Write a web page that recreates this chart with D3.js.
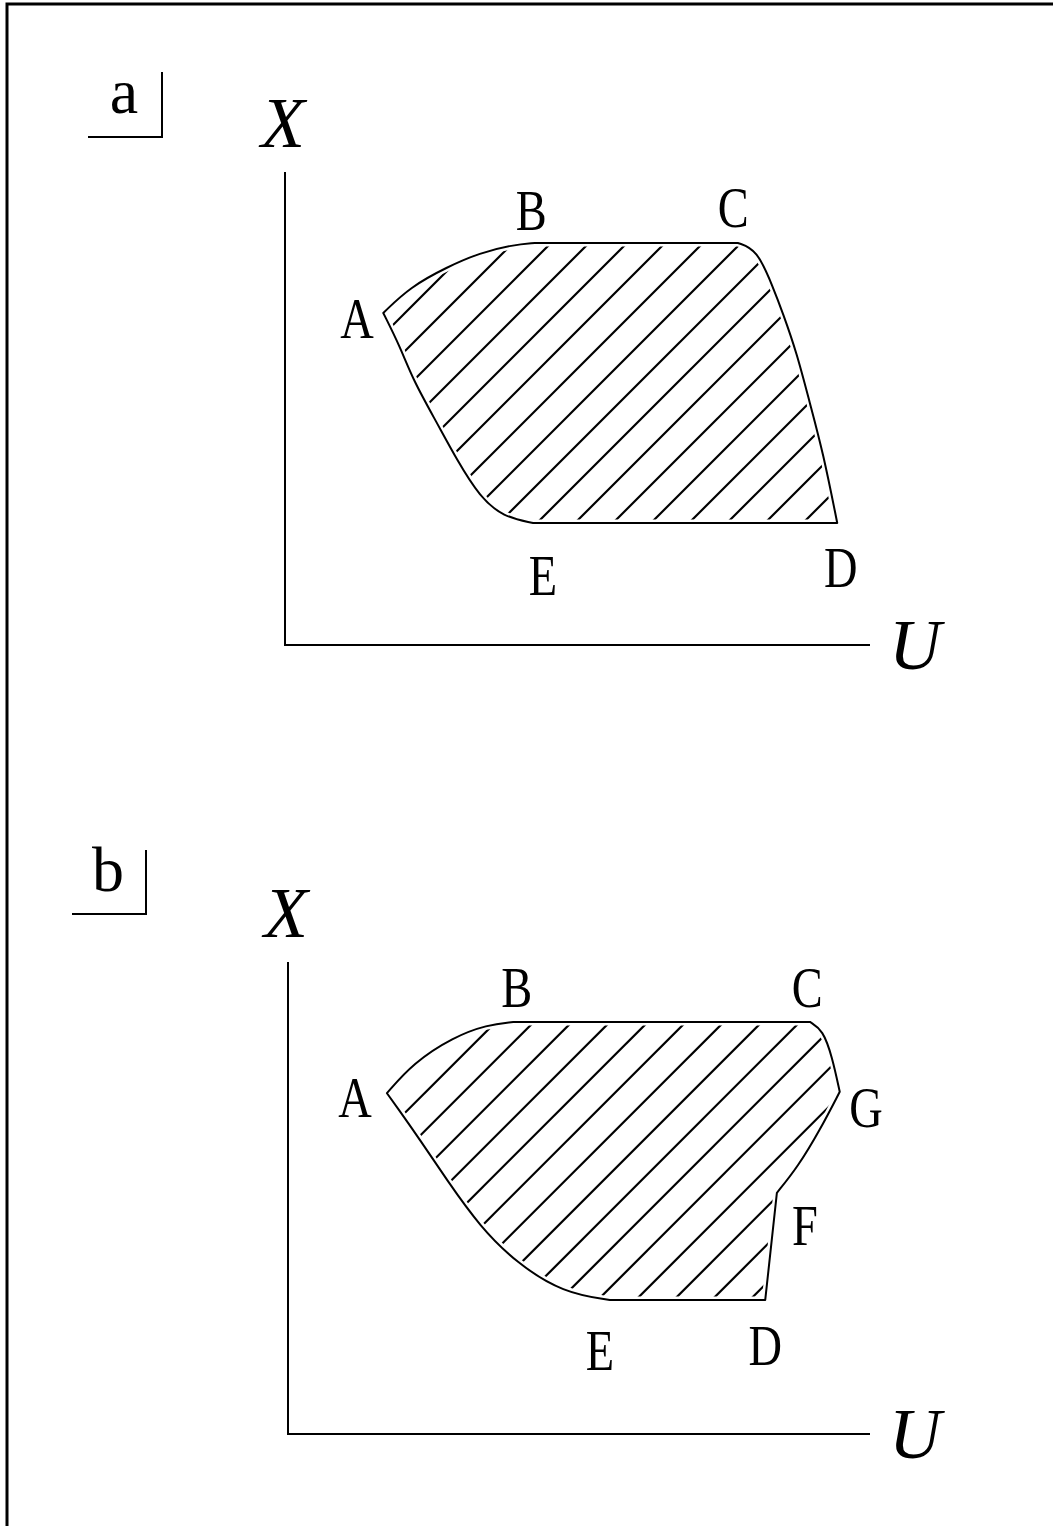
<!DOCTYPE html>
<html>
<head>
<meta charset="utf-8">
<script src="https://cdn.jsdelivr.net/npm/d3@7"></script>
<style>
  body { margin: 0; background: #fff; }
  svg { display: block; }
</style>
</head>
<body>
<svg id="chart" width="1053" height="1526"></svg>
<script>
/*global d3 */
// outline of each region, [U, X] in axis units (0-100), split into segments
var outlineA = [
    {curve: true,  pts: [[16.8, 70.2], [21.4, 75.7], [27.7, 79.9], [33.3, 82.9], [39.0, 84.6], [42.7, 85.0]]},
    {curve: false, pts: [[42.7, 85.0], [77.4, 85.0]]},
    {curve: true,  pts: [[77.4, 85.0], [80.7, 83.6], [83.4, 75.7], [85.1, 70.2], [87.5, 61.7], [89.7, 51.2], [92.0, 40.6], [94.4, 25.8]]},
    {curve: false, pts: [[94.4, 25.8], [42.4, 25.8]]},
    {curve: true,  pts: [[42.4, 25.8], [37.3, 27.1], [33.3, 31.3], [29.4, 39.1], [26.0, 46.9], [21.9, 56.0], [19.7, 63.0], [16.8, 70.2]]}
];
var outlineB = [
    {curve: true,  pts: [[17.0, 72.2], [21.5, 78.6], [28.4, 84.1], [34.2, 86.7], [38.7, 87.3]]},
    {curve: false, pts: [[38.7, 87.3], [89.7, 87.3]]},
    {curve: true,  pts: [[89.7, 87.3], [91.9, 85.6], [93.5, 79.9], [94.8, 72.5]]},
    {curve: true,  pts: [[94.8, 72.5], [91.4, 64.4], [87.6, 56.6], [84.0, 51.1]]},
    {curve: false, pts: [[84.0, 51.1], [82.0, 28.4]]},
    {curve: false, pts: [[82.0, 28.4], [55.3, 28.4]]},
    {curve: true,  pts: [[55.3, 28.4], [47.3, 29.9], [39.3, 36.2], [33.0, 43.9], [27.3, 53.8], [22.7, 62.3], [18.7, 69.3], [17.0, 72.2]]}
];
// point names, [name, U, X] of the label baseline centre
var labelsA = [["A", 12.3, 64.9], ["B", 42.1, 87.7], ["C", 76.6, 88.4], ["D", 95.0, 12.3], ["E", 44.1, 10.6]];
var labelsB = [["A", 11.5, 67.2], ["B", 39.3, 90.5], ["C", 89.2, 90.5], ["G", 99.3, 65.0],
               ["F", 88.8, 40.0], ["E", 53.6, 13.6], ["D", 82.0, 14.6]];

var svg = d3.select("#chart");

// frame
svg.append("rect")
    .attr("x", 7).attr("y", 4)
    .attr("width", 1200).attr("height", 1700)
    .attr("fill", "none")
    .attr("stroke", "#000")
    .attr("stroke-width", 3);

var panels = [
    {tag: "a", outline: outlineA, labels: labelsA, ox: 285, oy: 645, w: 585, h: 473,
        tagX: 124, tagY: 113, brX0: 88, brX1: 162, brY0: 72, brY1: 137, hatch0: 537},
    {tag: "b", outline: outlineB, labels: labelsB, ox: 288, oy: 1434, w: 582, h: 472,
        tagX: 108, tagY: 891, brX0: 72, brX1: 146, brY0: 850, brY1: 914, hatch0: 591}
];

var buildPath = function (segs, u, x) {
    "use strict";
    var d = "";
    segs.forEach(function (s, i) {
        var gen = d3.line()
            .x(function (p) { return u(p[0]); })
            .y(function (p) { return x(p[1]); })
            .curve(s.curve ? d3.curveBasis : d3.curveLinear);
        var part = gen(s.pts);
        if (i > 0) { part = "L" + part.slice(1); }
        d += part;
    });
    return d + "Z";
};

panels.forEach(function (p, pi) {
    "use strict";
    var u = d3.scaleLinear().domain([0, 100]).range([p.ox, p.ox + p.w]);
    var x = d3.scaleLinear().domain([0, 100]).range([p.oy, p.oy - p.h]);
    var g = svg.append("g");
    var serif = "'Liberation Serif', 'DejaVu Serif', serif";

    // panel tag with its corner bracket
    g.append("text")
        .attr("x", p.tagX).attr("y", p.tagY)
        .attr("text-anchor", "middle")
        .attr("font-family", serif)
        .attr("font-size", 64)
        .text(p.tag);
    g.append("path")
        .attr("d", "M" + p.brX0 + "," + p.brY1 + "H" + p.brX1 + "V" + p.brY0)
        .attr("fill", "none").attr("stroke", "#000").attr("stroke-width", 2);

    // axes
    g.append("path")
        .attr("d", "M" + u(0) + "," + x(100) + "V" + x(0) + "H" + u(100))
        .attr("fill", "none").attr("stroke", "#000").attr("stroke-width", 2);
    g.append("text")
        .attr("x", u(0) - 2).attr("y", x(100) - 25)
        .attr("text-anchor", "middle")
        .attr("font-family", serif).attr("font-style", "italic")
        .attr("font-size", 72)
        .text("X");
    g.append("text")
        .attr("x", u(100) + 45).attr("y", x(0) + 24)
        .attr("text-anchor", "middle")
        .attr("font-family", serif).attr("font-style", "italic")
        .attr("font-size", 72)
        .text("U");

    // hatched region
    var d = buildPath(p.outline, u, x);
    var clipId = "clip" + pi;
    svg.append("clipPath").attr("id", clipId).append("path").attr("d", d);
    var yb = x(p.outline.filter(function (s) { return !s.curve; })[1].pts[0][1]);
    var offs = d3.range(-18, 12);
    g.append("g").attr("clip-path", "url(#" + clipId + ")")
        .selectAll("line").data(offs).enter().append("line")
        .attr("x1", function (k) { return p.hatch0 + k * 38 - 300; })
        .attr("y1", yb + 300)
        .attr("x2", function (k) { return p.hatch0 + k * 38 + 500; })
        .attr("y2", yb - 500)
        .attr("stroke", "#000").attr("stroke-width", 2.2);
    g.append("path").attr("d", d)
        .attr("fill", "none").attr("stroke", "#fff").attr("stroke-width", 7)
        .attr("stroke-linejoin", "round");
    g.append("path").attr("d", d)
        .attr("fill", "none").attr("stroke", "#000").attr("stroke-width", 2)
        .attr("stroke-linejoin", "round");

    // point names
    g.selectAll("text.pt").data(p.labels).enter().append("text")
        .attr("class", "pt")
        .attr("text-anchor", "middle")
        .attr("font-family", serif)
        .attr("font-size", 58)
        .attr("transform", function (l) { return "translate(" + u(l[1]) + "," + x(l[2]) + ") scale(0.8,1)"; })
        .text(function (l) { return l[0]; });
});
</script>
</body>
</html>
